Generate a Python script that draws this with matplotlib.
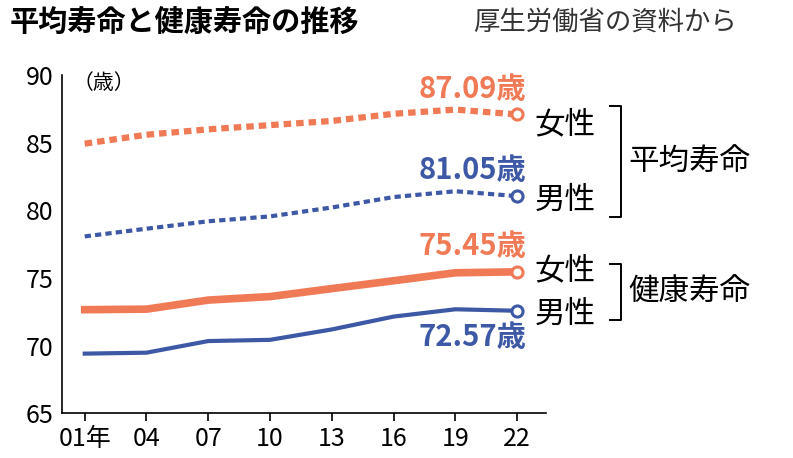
import matplotlib.pyplot as plt
from matplotlib.lines import Line2D

plt.rcParams["font.family"] = "Noto Sans CJK JP"

years = ["01年", "04", "07", "10", "13", "16", "19", "22"]
female_life = [84.93, 85.59, 85.99, 86.30, 86.61, 87.14, 87.45, 87.09]
male_life = [78.07, 78.64, 79.19, 79.55, 80.21, 80.98, 81.41, 81.05]
female_health = [72.65, 72.69, 73.36, 73.62, 74.21, 74.79, 75.38, 75.45]
male_health = [69.40, 69.47, 70.33, 70.42, 71.19, 72.14, 72.68, 72.57]

ORANGE = "#f07a55"
BLUE = "#3d58a5"

fig = plt.figure(figsize=(7.93, 4.58), dpi=100)
ax = fig.add_axes([0.078, 0.098, 0.61, 0.738])
x = list(range(len(years)))

ax.plot(x, female_life, color=ORANGE, lw=4.5, ls=(0, (1.2, 0.8)))
ax.plot(x, male_life, color=BLUE, lw=3, ls=(0, (1.5, 1)))
ax.plot(x, female_health, color=ORANGE, lw=5.5)
ax.plot(x, male_health, color=BLUE, lw=3)
for ys, c in [(female_life, ORANGE), (male_life, BLUE), (female_health, ORANGE), (male_health, BLUE)]:
    ax.plot(x[-1], ys[-1], "o", ms=8, mfc="white", mec=c, mew=2.2)

kw = dict(fontsize=21, fontweight="bold", ha="right")
ax.text(x[-1] + 0.15, female_life[-1] + 0.8, f"{female_life[-1]:.2f}歳", color=ORANGE, va="bottom", **kw)
ax.text(x[-1] + 0.15, male_life[-1] + 0.8, f"{male_life[-1]:.2f}歳", color=BLUE, va="bottom", **kw)
ax.text(x[-1] + 0.15, female_health[-1] + 0.8, f"{female_health[-1]:.2f}歳", color=ORANGE, va="bottom", **kw)
ax.text(x[-1] + 0.15, male_health[-1] - 0.8, f"{male_health[-1]:.2f}歳", color=BLUE, va="top", **kw)

ax.set_xlim(-0.37, 7.46)
ax.set_ylim(65, 90)
ax.set_yticks(range(65, 91, 5))
ax.set_xticks(x)
ax.set_xticklabels(years)
ax.tick_params(labelsize=18, length=6, width=1.2)
ax.tick_params(axis="y", length=0, pad=6)
ax.grid(False)
for s in ["top", "right"]:
    ax.spines[s].set_visible(False)
ax.spines["left"].set_linewidth(1.2)
ax.spines["bottom"].set_linewidth(1.2)
ax.text(-0.2, 89.4, "（歳）", fontsize=15, va="center")

def label(y_data, text):
    ax.text(7.28, y_data, text, fontsize=22, va="center", ha="left", clip_on=False)

label(86.3, "女性")
label(80.7, "男性")
label(75.5, "女性")
label(72.3, "男性")

def bracket(y0, y1, text):
    xs = 8.68
    ax.add_line(Line2D([8.5, xs, xs, 8.5], [y0, y0, y1, y1], color="black", lw=1.4, clip_on=False))
    ax.text(xs + 0.12, (y0 + y1) / 2, text, fontsize=22, va="center", ha="left", clip_on=False)

bracket(87.7, 79.5, "平均寿命")
bracket(76.0, 71.9, "健康寿命")

fig.text(0.012, 0.952, "平均寿命と健康寿命の推移", fontsize=21, fontweight="bold", va="center")
fig.text(0.597, 0.952, "厚生労働省の資料から", fontsize=19, va="center", color="#333333")

fig.savefig("out.png", dpi=100)
